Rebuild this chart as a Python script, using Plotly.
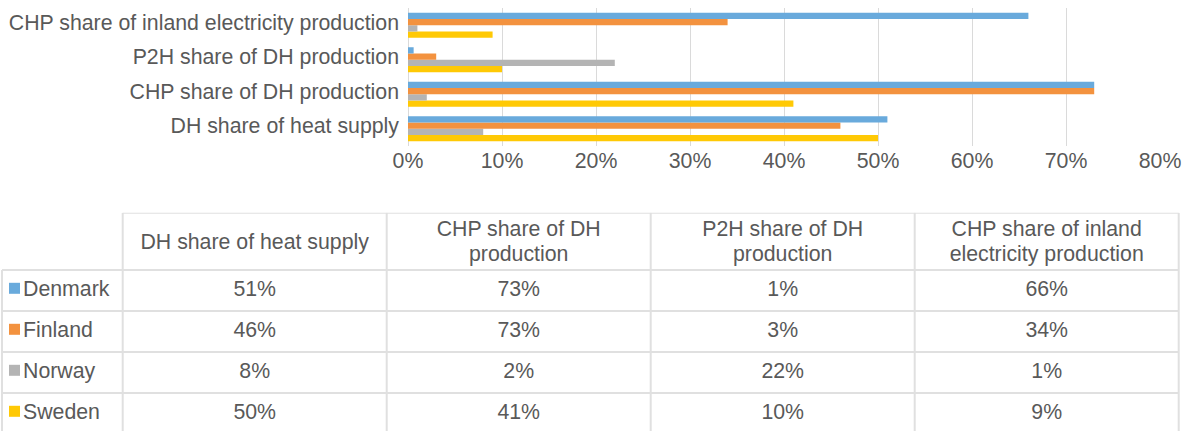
import plotly.graph_objects as go

# ---- data ----
categories = [
    "DH share of heat supply",
    "CHP share of DH production",
    "P2H share of DH production",
    "CHP share of inland electricity production",
]
header_labels = [
    "DH share of heat supply",
    "CHP share of DH<br>production",
    "P2H share of DH<br>production",
    "CHP share of inland<br>electricity production",
]
countries = ["Denmark", "Finland", "Norway", "Sweden"]
denmark = [0.51, 0.73, 0.006, 0.66]
finland = [0.46, 0.73, 0.03, 0.34]
norway = [0.08, 0.02, 0.22, 0.01]
sweden = [0.50, 0.41, 0.10, 0.09]
x_ticks = [0, 0.1, 0.2, 0.3, 0.4, 0.5, 0.6, 0.7, 0.8]

series = {"Denmark": denmark, "Finland": finland, "Norway": norway, "Sweden": sweden}
colors = {"Denmark": "#69AADC", "Finland": "#F3923F", "Norway": "#B4B4B4", "Sweden": "#FFC905"}

# ---- style / layout constants ----
FONT = "Liberation Sans, Arial, Helvetica, sans-serif"
TXT = "#595959"
FS = 21.3
W, H = 1190, 431
TABLE_TOP = 212.7            # px from top of figure
TABLE_LEFT = 2.0
COL_W = [120.7, 264, 264, 264, 264]
HEADER_H = 57.3
ROW_H = 41.0
HEADER_LINE_GAP = 24.4
LINE = "#E0E0E0"

fig = go.Figure()

# ---- bar chart (first trace drawn at bottom of each group -> reversed) ----
for c in reversed(countries):
    fig.add_trace(go.Bar(
        y=categories, x=series[c], name=c, orientation="h",
        marker=dict(color=colors[c], line=dict(width=0)),
        showlegend=False, xaxis="x", yaxis="y",
    ))

# ---- data table on its own (hidden) axes, in table-local units ----
col_edges = [TABLE_LEFT]
for w in COL_W:
    col_edges.append(col_edges[-1] + w)
col_centers = [(col_edges[i] + col_edges[i + 1]) / 2 for i in range(len(COL_W))]
row_edges = [0, HEADER_H] + [HEADER_H + ROW_H * (i + 1) for i in range(len(countries))]
row_centers = [HEADER_H + ROW_H * (i + 0.5) for i in range(len(countries))]
header_center = HEADER_H / 2 + 2

shapes = []
# horizontal lines
shapes.append(dict(type="line", xref="x2", yref="y2", x0=col_edges[1], x1=col_edges[-1],
                   y0=0, y1=0, line=dict(color=LINE, width=2)))
for y in row_edges[1:]:
    shapes.append(dict(type="line", xref="x2", yref="y2", x0=col_edges[0], x1=col_edges[-1],
                       y0=y, y1=y, line=dict(color=LINE, width=2)))
# vertical lines
shapes.append(dict(type="line", xref="x2", yref="y2", x0=col_edges[0], x1=col_edges[0],
                   y0=HEADER_H, y1=row_edges[-1], line=dict(color=LINE, width=2)))
for x in col_edges[1:]:
    shapes.append(dict(type="line", xref="x2", yref="y2", x0=x, x1=x,
                       y0=0, y1=row_edges[-1], line=dict(color=LINE, width=2)))

# header texts (each line placed separately for tighter line spacing)
hx, hy, ht = [], [], []
for j, lab in enumerate(header_labels):
    lines = lab.split("<br>")
    n = len(lines)
    for k, ln in enumerate(lines):
        hx.append(col_centers[j + 1])
        hy.append(header_center + (k - (n - 1) / 2) * HEADER_LINE_GAP)
        ht.append(ln)
fig.add_trace(go.Scatter(
    x=hx, y=hy, text=ht, mode="text", textposition="middle center",
    textfont=dict(family=FONT, size=FS, color=TXT),
    xaxis="x2", yaxis="y2", showlegend=False, hoverinfo="skip", cliponaxis=False,
))
# value cells
for j in range(len(categories)):
    fig.add_trace(go.Scatter(
        x=[col_centers[j + 1]] * len(countries), y=row_centers,
        text=[f"{round(series[c][j] * 100):.0f}%" for c in countries],
        mode="text", textposition="middle center",
        textfont=dict(family=FONT, size=FS, color=TXT),
        xaxis="x2", yaxis="y2", showlegend=False, hoverinfo="skip", cliponaxis=False,
    ))
# legend keys + country names
fig.add_trace(go.Scatter(
    x=[TABLE_LEFT + 12.5] * len(countries), y=[r - 2.2 for r in row_centers],
    mode="markers",
    marker=dict(symbol="square", size=11, color=[colors[c] for c in countries],
                line=dict(width=0)),
    xaxis="x2", yaxis="y2", showlegend=False, hoverinfo="skip", cliponaxis=False,
))
fig.add_trace(go.Scatter(
    x=[TABLE_LEFT + 21] * len(countries), y=row_centers,
    text=countries, mode="text", textposition="middle right",
    textfont=dict(family=FONT, size=FS, color=TXT),
    xaxis="x2", yaxis="y2", showlegend=False, hoverinfo="skip", cliponaxis=False,
))

table_h = H - TABLE_TOP
fig.update_layout(
    width=W, height=H,
    margin=dict(l=0, r=0, t=0, b=0),
    paper_bgcolor="white", plot_bgcolor="rgba(0,0,0,0)",
    barmode="group", bargap=0.275, bargroupgap=0,
    font=dict(family=FONT, size=FS, color=TXT),
    shapes=shapes,
    xaxis=dict(
        domain=[408 / W, 1160 / W], range=[0, 0.8],
        tickvals=x_ticks, tickformat=".0%",
        showgrid=True, gridcolor="#DADADA", gridwidth=1,
        zeroline=True, zerolinecolor="#DADADA", zerolinewidth=1,
        showline=False, ticks="", ticklabelstandoff=0, automargin=False,
        tickfont=dict(family=FONT, size=FS, color=TXT),
        fixedrange=True,
    ),
    yaxis=dict(
        domain=[1 - 146 / H, 1 - 8 / H],
        type="category", categoryorder="array", categoryarray=categories,
        showgrid=False, zeroline=False, showline=False, ticks="",
        ticklabelstandoff=8, ticklabelshift=-3, automargin=False,
        tickfont=dict(family=FONT, size=FS, color=TXT),
        fixedrange=True,
    ),
    xaxis2=dict(domain=[0, 1], range=[0, W], visible=False, fixedrange=True),
    yaxis2=dict(domain=[0, table_h / H], range=[table_h, 0], visible=False,
                fixedrange=True),
)

# remove the browser's default 8px page margin so the figure sits at (0, 0)
fig.write_html("out.html", config={"displayModeBar": False},
               post_script="document.body.style.margin='0';")
